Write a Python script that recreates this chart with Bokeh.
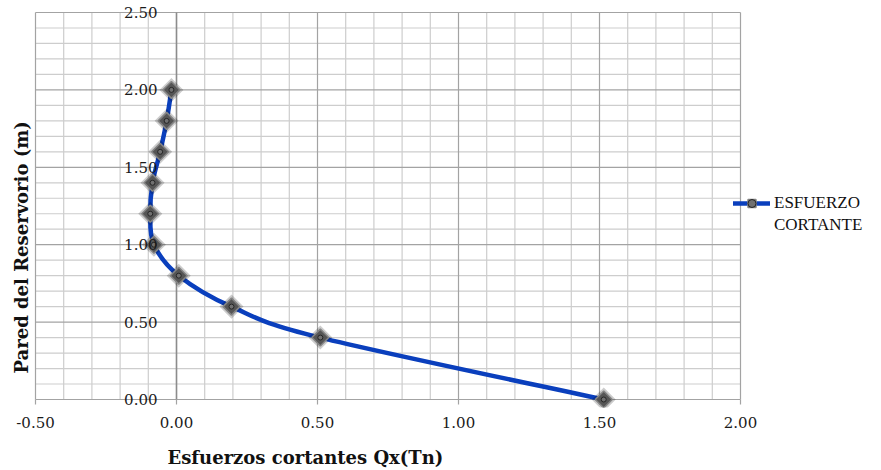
import math
import numpy as np
from bokeh.plotting import figure
from bokeh.models import (Range1d, FixedTicker, NumeralTickFormatter, Title,
                          ColumnDataSource, Legend, LegendItem)
from bokeh.embed import file_html
from bokeh.resources import INLINE

# ---- data ----
wall_height = [0.0, 0.4, 0.6, 0.8, 1.0, 1.2, 1.4, 1.6, 1.8, 2.0]
shear = [1.515, 0.51, 0.195, 0.008, -0.08, -0.093, -0.085, -0.058, -0.035, -0.018]
x_major = [-0.5, 0.0, 0.5, 1.0, 1.5, 2.0]
y_major = [0.0, 0.5, 1.0, 1.5, 2.0, 2.5]
x_minor = [round(v, 2) for v in np.arange(-0.5, 2.01, 0.1)]
y_minor = [round(v, 2) for v in np.arange(0.0, 2.51, 0.1)]
series_lines = ["ESFUERZO", "CORTANTE"]
x_title = "Esfuerzos cortantes Qx(Tn)"
y_title = "Pared del Reservorio (m)"

# ---- layout (pixels) ----
W, H = 879, 470
PX_X = 282.0    # px per x unit
PX_Y = 154.8    # px per y unit
xmin, xmax = x_major[0], x_major[-1]
ymin, ymax = y_major[0], y_major[-1]
pad_l, pad_r, pad_t, pad_b = 2, 137, 8, 8   # extra frame room beyond the chart box
x_rng = Range1d(xmin - pad_l / PX_X, xmax + pad_r / PX_X)
y_rng = Range1d(ymin - pad_b / PX_Y, ymax + pad_t / PX_Y)

p = figure(width=W, height=H, x_range=x_rng, y_range=y_rng,
           output_backend="svg", toolbar_location=None,
           min_border_left=33, min_border_right=W - 740 - pad_r,
           min_border_top=12 - pad_t, min_border_bottom=H - 399 - pad_b)
p.outline_line_color = None
p.background_fill_color = "white"
p.border_fill_color = "white"
p.xgrid.visible = False
p.ygrid.visible = False

# hand-drawn grid (bounded to the chart box)
v_min = [x for x in x_minor if x not in x_major]
h_min = [y for y in y_minor if y not in y_major]
p.segment(x0=v_min, y0=[ymin] * len(v_min), x1=v_min, y1=[ymax] * len(v_min),
          line_color="#cdcdcd", line_width=1.2)
p.segment(x0=[xmin] * len(h_min), y0=h_min, x1=[xmax] * len(h_min), y1=h_min,
          line_color="#cdcdcd", line_width=1.2)
p.segment(x0=x_major, y0=[ymin] * len(x_major), x1=x_major, y1=[ymax] * len(x_major),
          line_color="#a3a3a3", line_width=1.2)
p.segment(x0=[xmin] * len(y_major), y0=y_major, x1=[xmax] * len(y_major), y1=y_major,
          line_color="#a3a3a3", line_width=1.2)
# vertical axis line at x = 0 and x-axis tick marks (5 px, outside)
p.segment(x0=[0.0], y0=[ymin], x1=[0.0], y1=[ymax], line_color="#8c8c8c", line_width=1.5)
p.segment(x0=x_major, y0=[ymin] * len(x_major), x1=x_major,
          y1=[ymin - 5 / PX_Y] * len(x_major), line_color="#a3a3a3", line_width=1.2)

# x axis: labels only
p.xaxis.ticker = FixedTicker(ticks=x_major, minor_ticks=[])
p.xaxis.formatter = NumeralTickFormatter(format="0.00")
p.xaxis.axis_line_color = None
p.xaxis.major_tick_line_color = None
p.xaxis.minor_tick_line_color = None
p.xaxis.major_tick_out = 0
p.xaxis.major_tick_in = 0
p.xaxis.major_label_text_font = "DejaVu Serif"
p.xaxis.major_label_text_font_size = "15px"
p.xaxis.major_label_text_color = "#1a1a1a"
p.xaxis.major_label_standoff = 9

# y axis crossing at x = 0: labels only
p.yaxis.fixed_location = 0
p.yaxis.ticker = FixedTicker(ticks=y_major, minor_ticks=[])
p.yaxis.formatter = NumeralTickFormatter(format="0.00")
p.yaxis.axis_line_color = None
p.yaxis.major_tick_line_color = None
p.yaxis.minor_tick_line_color = None
p.yaxis.major_tick_out = 0
p.yaxis.major_tick_in = 0
p.yaxis.major_label_standoff = 19
p.yaxis.major_label_text_font = "DejaVu Serif"
p.yaxis.major_label_text_font_size = "15px"
p.yaxis.major_label_text_color = "#1a1a1a"

# smooth curve (Catmull-Rom -> cubic Bezier) through the data points
px = [shear[0]] + shear + [shear[-1]]
py = [wall_height[0]] + wall_height + [wall_height[-1]]
bz = dict(x0=[], y0=[], x1=[], y1=[], cx0=[], cy0=[], cx1=[], cy1=[])
for i in range(1, len(px) - 2):
    bz["x0"].append(px[i]); bz["y0"].append(py[i])
    bz["x1"].append(px[i + 1]); bz["y1"].append(py[i + 1])
    bz["cx0"].append(px[i] + (px[i + 1] - px[i - 1]) / 6)
    bz["cy0"].append(py[i] + (py[i + 1] - py[i - 1]) / 6)
    bz["cx1"].append(px[i + 1] - (px[i + 2] - px[i]) / 6)
    bz["cy1"].append(py[i + 1] - (py[i + 2] - py[i]) / 6)
curve = p.bezier(x0="x0", y0="y0", x1="x1", y1="y1", cx0="cx0", cy0="cy0", cx1="cx1",
                 cy1="cy1", source=ColumnDataSource(bz), line_color="#0a3fbd",
                 line_width=4.5, line_cap="round")

src = ColumnDataSource(dict(x=shear, y=wall_height))
shadow = p.scatter("x", "y", source=src, marker="square", angle=math.pi / 4, size=17,
                   fill_color="#000000", fill_alpha=0.2, line_color=None)
mk = p.scatter("x", "y", source=src, marker="square", angle=math.pi / 4, size=12,
               fill_color="#555555", line_color="#858585", line_width=1.5)
dot = p.scatter("x", "y", source=src, marker="circle", size=5,
                fill_color="#707070", line_color="#252525", line_width=1)

# legend (two text rows; second row carries no glyph)
blank = p.scatter(x=[], y=[], marker="circle", size=1, fill_alpha=0, line_alpha=0)
legend = Legend(items=[LegendItem(label=series_lines[0], renderers=[curve, shadow, mk, dot]),
                       LegendItem(label=series_lines[1], renderers=[blank])],
                location=(733 - 33, 407 - 235), glyph_width=37, glyph_height=20,
                label_standoff=4, spacing=2, padding=0, margin=0, border_line_color=None,
                background_fill_alpha=0,
                label_text_font="Liberation Serif", label_text_font_size="17px",
                label_text_color="#111111")
p.add_layout(legend, "center")

# axis titles (a blank title adds space between the x tick labels and the x title)
p.add_layout(Title(text=" ", text_font_size="11px", standoff=0), "below")
p.add_layout(Title(text=x_title, align="left", offset=134, standoff=0,
                   text_font="DejaVu Serif", text_font_style="bold", text_font_size="18px",
                   text_color="#111111"), "below")
p.add_layout(Title(text=y_title, align="left", offset=34, standoff=4,
                   text_font="DejaVu Serif", text_font_style="bold", text_font_size="18px",
                   text_color="#111111"), "left")

open("out.html", "w").write(file_html(p, INLINE))
